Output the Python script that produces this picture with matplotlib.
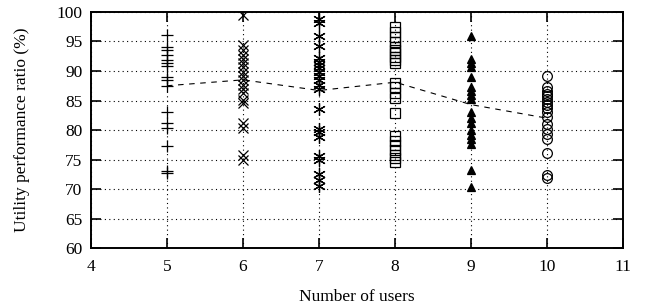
import matplotlib.pyplot as plt

plt.rcParams['font.family'] = ['Liberation Serif', 'DejaVu Serif']
plt.rcParams['font.size'] = 12.5

# Utility performance ratio (%) per run, grouped by number of users
users = [5, 6, 7, 8, 9, 10]
ratio_5 = [96.1, 94.1, 93.6, 92.7, 91.9, 91.3, 90.8, 89.0, 88.5, 87.5,
           83.1, 81.2, 80.3, 77.3, 73.0, 72.7]
ratio_6 = [99.5, 94.4, 93.6, 92.7, 92.0, 91.4, 90.7, 89.8, 89.2, 88.5,
           87.6, 86.9, 86.3, 85.1, 84.6, 81.2, 80.3, 75.8, 75.0]
ratio_7 = [98.8, 98.2, 96.0, 94.2, 92.2, 91.5, 91.0, 90.5, 89.8, 89.2,
           88.5, 87.6, 87.0, 83.5, 80.2, 79.7, 78.8, 75.6, 75.0, 72.5,
           71.5, 70.5]
ratio_8 = [97.5, 96.6, 95.8, 94.9, 94.1, 93.6, 93.0, 92.4, 91.9, 91.3,
           88.0, 87.3, 86.2, 85.4, 82.8, 79.0, 78.2, 77.4, 76.6, 75.8,
           75.2, 74.6]
ratio_9 = [96.0, 92.0, 91.3, 90.6, 89.0, 87.3, 86.6, 86.0, 85.3, 83.0,
           82.0, 81.2, 80.0, 79.2, 78.4, 77.6, 73.3, 70.3]
ratio_10 = [89.2, 87.3, 86.6, 86.1, 85.7, 85.2, 84.8, 84.3, 83.8, 83.0,
            82.2, 81.0, 80.2, 79.4, 78.4, 76.1, 72.4, 71.9]
mean_ratio = [87.5, 88.5, 86.7, 88.1, 84.3, 82.0]

fig = plt.figure(figsize=(6.54, 3.07), dpi=100)
ax = fig.add_axes([0.139, 0.192, 0.814, 0.769])

groups = [ratio_5, ratio_6, ratio_7, ratio_8, ratio_9, ratio_10]
styles = [
    dict(marker='+', ms=9, mew=0.9, mfc='none'),
    dict(marker='x', ms=7.5, mew=0.9, mfc='none'),
    dict(marker=(6, 2, 0), ms=9, mew=0.9, mfc='none'),
    dict(marker='s', ms=7, mew=0.9, mfc='none'),
    dict(marker='^', ms=6, mew=0.9, mfc='black'),
    dict(marker='o', ms=7, mew=0.9, mfc='none'),
]
for n, vals, st in zip(users, groups, styles):
    ax.plot([n] * len(vals), vals, linestyle='none', color='black', **st)

ax.plot(users, mean_ratio, color='black', linestyle=(0, (5, 5)), linewidth=0.8)

ax.set_xlim(4, 11)
ax.set_ylim(60, 100)
ax.set_xticks(range(4, 12))
ax.set_yticks(range(60, 101, 5))
ax.grid(True, color='black', linestyle=(0, (1, 3)), linewidth=0.8)
ax.tick_params(direction='in', length=7, width=1.2, top=True, right=True)
ax.tick_params(axis='x', pad=8)
ax.tick_params(axis='y', pad=6)
for sp in ax.spines.values():
    sp.set_linewidth(1.4)

ax.set_xlabel('Number of users', labelpad=10)
ax.set_ylabel('Utility performance ratio (%)', labelpad=19)

fig.savefig('out.png', dpi=100)
